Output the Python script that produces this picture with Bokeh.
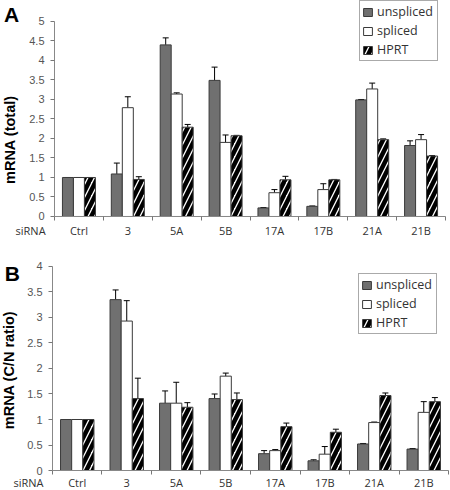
import math
import numpy as np
from bokeh.plotting import figure
from bokeh.layouts import column
from bokeh.models import (ColumnDataSource, Range1d, FixedTicker, NumeralTickFormatter,
                          Whisker, TeeHead, Legend, LegendItem, Label)
from bokeh.transform import dodge
from bokeh.embed import file_html
from bokeh.resources import INLINE

categories = ["Ctrl", "3", "5A", "5B", "17A", "17B", "21A", "21B"]
series = ["unspliced", "spliced", "HPRT"]

# Panel A: mRNA (total)
a_unspliced = [1.00, 1.09, 4.40, 3.49, 0.22, 0.26, 2.99, 1.82]
a_unspliced_err = [0.00, 0.28, 0.18, 0.34, 0.01, 0.01, 0.01, 0.12]
a_spliced = [1.00, 2.79, 3.14, 1.90, 0.61, 0.69, 3.27, 1.97]
a_spliced_err = [0.00, 0.28, 0.03, 0.19, 0.08, 0.15, 0.15, 0.13]
a_hprt = [1.00, 0.95, 2.29, 2.07, 0.94, 0.94, 1.97, 1.55]
a_hprt_err = [0.00, 0.07, 0.07, 0.01, 0.09, 0.01, 0.02, 0.01]

# Panel B: mRNA (C/N ratio)
b_unspliced = [1.00, 3.35, 1.32, 1.41, 0.33, 0.19, 0.52, 0.42]
b_unspliced_err = [0.00, 0.19, 0.24, 0.09, 0.06, 0.02, 0.01, 0.01]
b_spliced = [1.00, 2.93, 1.32, 1.85, 0.39, 0.32, 0.94, 1.14]
b_spliced_err = [0.00, 0.40, 0.41, 0.06, 0.02, 0.15, 0.01, 0.21]
b_hprt = [1.00, 1.41, 1.24, 1.39, 0.86, 0.75, 1.47, 1.35]
b_hprt_err = [0.00, 0.40, 0.09, 0.13, 0.07, 0.06, 0.05, 0.08]

LABEL_FONT = "Open Sans"
NUM_FONT = "Liberation Sans"


def make_panel(vals, errs, ymax, ytitle, letter, width, height, xr, yr,
               legend_loc, letter_xy, sirna_xy, title_xy, x_standoff):
    n = len(categories)
    centers = np.arange(n) + 0.5
    data = {"x": centers}
    for s, v, e in zip(series, vals, errs):
        data[s] = np.array(v)
        data[s + "_top"] = np.array(v) + np.array(e)
    src = ColumnDataSource(data)

    p = figure(width=width, height=height, output_backend="svg", toolbar_location=None,
               x_range=Range1d(*xr), y_range=Range1d(*yr),
               min_border_left=0, min_border_right=0,
               min_border_top=0, min_border_bottom=0)
    p.outline_line_color = None
    p.xgrid.visible = False
    p.ygrid.visible = False
    p.background_fill_color = "white"
    p.border_fill_color = "white"

    bw = 0.225
    offsets = [-bw, 0.0, bw]
    styles = [
        dict(fill_color="#707070", line_color="#3a3a3a"),
        dict(fill_color="white", line_color="#3a3a3a"),
        dict(fill_color="white", line_color="#3a3a3a", hatch_pattern="/",
             hatch_color="black", hatch_weight=4.5, hatch_scale=13),
    ]
    renderers = []
    for s, off, st in zip(series, offsets, styles):
        r = p.vbar(x=dodge("x", off), top=s, bottom=0, width=bw, source=src,
                   line_width=1, **st)
        renderers.append(r)
        w = Whisker(base=dodge("x", off), lower=s, upper=s + "_top", source=src,
                    line_color="black", line_width=1,
                    upper_head=TeeHead(size=6, line_color="black", line_width=1),
                    lower_head=None)
        p.add_layout(w)

    # x axis at y=0: labels at category centres, tick marks at category boundaries
    xa = p.xaxis[0]
    xa.fixed_location = 0
    xa.bounds = (0, n)
    xa.ticker = FixedTicker(ticks=list(centers), minor_ticks=list(np.arange(n + 1)))
    xa.major_label_overrides = {float(c): cat for c, cat in zip(centers, categories)}
    xa.major_tick_out = 0
    xa.major_tick_in = 0
    xa.minor_tick_out = 4
    xa.minor_tick_in = 0
    xa.minor_tick_line_color = "#777777"
    xa.axis_line_color = "#888888"
    xa.major_label_text_font = LABEL_FONT
    xa.major_label_text_font_size = "11px"
    xa.major_label_text_color = "#333333"
    xa.major_label_standoff = x_standoff

    # y axis at x=0
    ya = p.yaxis[0]
    ya.fixed_location = 0
    ya.bounds = (0, ymax)
    ya.ticker = FixedTicker(ticks=list(np.arange(0, ymax + 0.01, 0.5)))
    ya.formatter = NumeralTickFormatter(format="0.[0]")
    ya.major_tick_out = 4
    ya.major_tick_in = 0
    ya.minor_tick_out = 0
    ya.minor_tick_in = 0
    ya.major_tick_line_color = "#777777"
    ya.axis_line_color = "#888888"
    ya.major_label_text_font = NUM_FONT
    ya.major_label_text_font_size = "11px"
    ya.major_label_text_color = "#555555"
    ya.major_label_standoff = 6

    legend = Legend(items=[LegendItem(label=s, renderers=[r]) for s, r in zip(series, renderers)],
                    location=legend_loc, orientation="vertical",
                    border_line_color="#555555", border_line_width=1,
                    background_fill_color="white", background_fill_alpha=1,
                    label_text_font=LABEL_FONT, label_text_font_size="12.5px",
                    label_text_color="#333333",
                    glyph_width=11, glyph_height=10, label_height=14, label_width=58,
                    label_standoff=4, spacing=2, padding=2, margin=0)
    p.add_layout(legend)

    p.add_layout(Label(x=letter_xy[0], y=letter_xy[1],
                       text=letter, text_font=NUM_FONT, text_font_style="bold",
                       text_font_size="21px", text_align="center", text_baseline="middle",
                       text_color="black"))
    p.add_layout(Label(x=sirna_xy[0], y=sirna_xy[1],
                       text="siRNA", text_font=LABEL_FONT,
                       text_font_size="11px", text_align="center", text_baseline="middle",
                       text_color="#333333"))
    p.add_layout(Label(x=title_xy[0], y=title_xy[1], angle=math.pi / 2,
                       text=ytitle, text_font=NUM_FONT, text_font_style="bold",
                       text_font_size="14.5px", text_align="center", text_baseline="middle",
                       text_color="black"))
    return p


pa = make_panel([a_unspliced, a_spliced, a_hprt],
                [a_unspliced_err, a_spliced_err, a_hprt_err],
                5, "mRNA (total)", "A", 450, 244,
                (-1.105, 8.102), (-0.718, 5.538),
                (359, 183), (-0.88, 5.17), (-0.49, -0.36), (-0.92, 1.97), 3)
pb = make_panel([b_unspliced, b_spliced, b_hprt],
                [b_unspliced_err, b_spliced_err, b_hprt_err],
                4, "mRNA (C/N ratio)", "B", 450, 246,
                (-1.0505, 8.0404), (-0.392, 4.431),
                (358, 156), (-0.81, 3.87), (-0.485, -0.23), (-0.87, 1.97), 0)

layout = column(pa, pb, spacing=0)
open("out.html", "w").write(file_html(layout, INLINE))
